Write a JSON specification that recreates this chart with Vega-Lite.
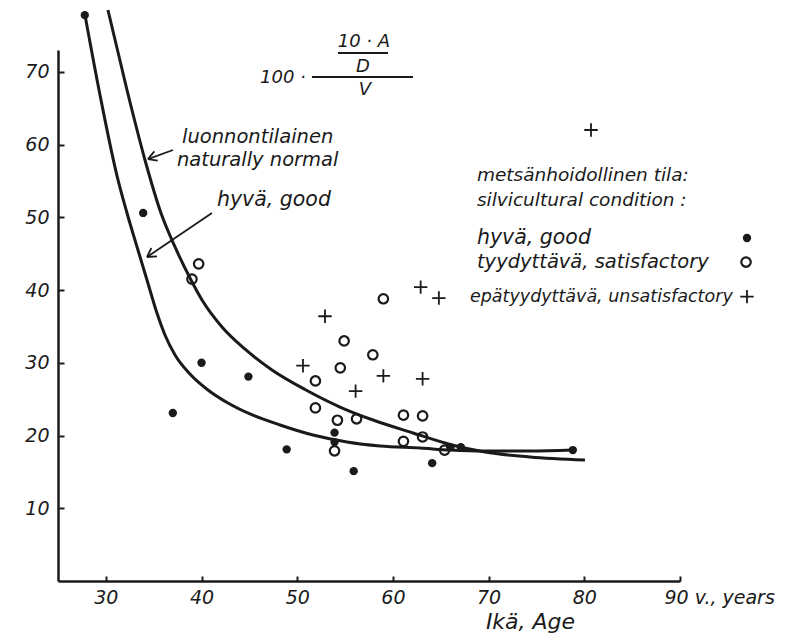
{
  "$schema": "https://vega.github.io/schema/vega-lite/v6.json",
  "autosize": {"type": "none"},
  "width": 622,
  "height": 531,
  "padding": {"left": 58, "top": 50, "right": 118, "bottom": 54},
  "background": "white",
  "config": {
    "view": {"stroke": null},
    "text": {"font": "DejaVu Sans", "fontStyle": "italic", "color": "#1a1a1a"}
  },
  "datasets": {
    "obs": [
      {"age": 27.8, "value": 77.8, "cond": "good"},
      {"age": 33.9, "value": 50.6, "cond": "good"},
      {"age": 40.0, "value": 30.0, "cond": "good"},
      {"age": 44.9, "value": 28.1, "cond": "good"},
      {"age": 37.0, "value": 23.1, "cond": "good"},
      {"age": 48.9, "value": 18.1, "cond": "good"},
      {"age": 53.9, "value": 20.4, "cond": "good"},
      {"age": 53.9, "value": 19.1, "cond": "good"},
      {"age": 55.9, "value": 15.1, "cond": "good"},
      {"age": 64.1, "value": 16.2, "cond": "good"},
      {"age": 66.0, "value": 18.4, "cond": "good"},
      {"age": 67.1, "value": 18.4, "cond": "good"},
      {"age": 78.8, "value": 18.0, "cond": "good"},
      {"age": 39.7, "value": 43.6, "cond": "satisfactory"},
      {"age": 39.0, "value": 41.5, "cond": "satisfactory"},
      {"age": 59.0, "value": 38.8, "cond": "satisfactory"},
      {"age": 54.9, "value": 33.0, "cond": "satisfactory"},
      {"age": 57.9, "value": 31.1, "cond": "satisfactory"},
      {"age": 54.5, "value": 29.3, "cond": "satisfactory"},
      {"age": 51.9, "value": 27.5, "cond": "satisfactory"},
      {"age": 51.9, "value": 23.8, "cond": "satisfactory"},
      {"age": 54.2, "value": 22.1, "cond": "satisfactory"},
      {"age": 56.2, "value": 22.3, "cond": "satisfactory"},
      {"age": 53.9, "value": 17.9, "cond": "satisfactory"},
      {"age": 61.1, "value": 22.8, "cond": "satisfactory"},
      {"age": 63.1, "value": 22.7, "cond": "satisfactory"},
      {"age": 61.1, "value": 19.2, "cond": "satisfactory"},
      {"age": 63.1, "value": 19.8, "cond": "satisfactory"},
      {"age": 65.4, "value": 18.0, "cond": "satisfactory"},
      {"age": 80.7, "value": 62.0, "cond": "unsatisfactory"},
      {"age": 62.9, "value": 40.4, "cond": "unsatisfactory"},
      {"age": 64.8, "value": 38.9, "cond": "unsatisfactory"},
      {"age": 52.9, "value": 36.4, "cond": "unsatisfactory"},
      {"age": 50.6, "value": 29.6, "cond": "unsatisfactory"},
      {"age": 59.0, "value": 28.2, "cond": "unsatisfactory"},
      {"age": 56.1, "value": 26.1, "cond": "unsatisfactory"},
      {"age": 63.1, "value": 27.8, "cond": "unsatisfactory"}
    ],
    "curves": [
      {"curve": "naturally normal", "age": 30.22, "value": 78.5},
      {"curve": "naturally normal", "age": 32.21, "value": 67.5},
      {"curve": "naturally normal", "age": 34.09, "value": 57.88},
      {"curve": "naturally normal", "age": 35.76, "value": 50.59},
      {"curve": "naturally normal", "age": 37.23, "value": 45.92},
      {"curve": "naturally normal", "age": 38.9, "value": 41.38},
      {"curve": "naturally normal", "age": 40.05, "value": 38.63},
      {"curve": "naturally normal", "age": 42.14, "value": 34.92},
      {"curve": "naturally normal", "age": 44.64, "value": 31.76},
      {"curve": "naturally normal", "age": 47.36, "value": 29.01},
      {"curve": "naturally normal", "age": 50.91, "value": 26.26},
      {"curve": "naturally normal", "age": 54.47, "value": 23.92},
      {"curve": "naturally normal", "age": 57.92, "value": 22.13},
      {"curve": "naturally normal", "age": 62.1, "value": 20.35},
      {"curve": "naturally normal", "age": 66.17, "value": 18.7},
      {"curve": "naturally normal", "age": 69.62, "value": 17.73},
      {"curve": "naturally normal", "age": 74.32, "value": 17.05},
      {"curve": "naturally normal", "age": 80.07, "value": 16.63},
      {"curve": "good", "age": 27.82, "value": 77.81},
      {"curve": "good", "age": 29.39, "value": 66.81},
      {"curve": "good", "age": 31.27, "value": 55.13},
      {"curve": "good", "age": 32.21, "value": 50.59},
      {"curve": "good", "age": 33.26, "value": 45.92},
      {"curve": "good", "age": 34.3, "value": 41.38},
      {"curve": "good", "age": 35.34, "value": 36.84},
      {"curve": "good", "age": 36.18, "value": 33.82},
      {"curve": "good", "age": 37.23, "value": 31.07},
      {"curve": "good", "age": 38.79, "value": 28.46},
      {"curve": "good", "age": 40.67, "value": 26.26},
      {"curve": "good", "age": 42.76, "value": 24.47},
      {"curve": "good", "age": 45.06, "value": 22.96},
      {"curve": "good", "age": 48.2, "value": 21.45},
      {"curve": "good", "age": 51.65, "value": 20.07},
      {"curve": "good", "age": 55.2, "value": 19.11},
      {"curve": "good", "age": 58.65, "value": 18.56},
      {"curve": "good", "age": 62.83, "value": 18.28},
      {"curve": "good", "age": 65.96, "value": 18.01},
      {"curve": "good", "age": 69.41, "value": 17.87},
      {"curve": "good", "age": 74.32, "value": 17.87},
      {"curve": "good", "age": 78.81, "value": 18.01}
    ],
    "segments": [
      {"part": "arrow1", "x": 34.4, "y": 58.01, "x2": 37.02, "y2": 59.25},
      {"part": "arrow1", "x": 34.4, "y": 58.01, "x2": 35.07, "y2": 59.06},
      {"part": "arrow1", "x": 34.4, "y": 58.01, "x2": 35.42, "y2": 57.8},
      {"part": "arrow2", "x": 34.3, "y": 44.54, "x2": 41.09, "y2": 50.59},
      {"part": "arrow2", "x": 34.3, "y": 44.54, "x2": 34.76, "y2": 45.78},
      {"part": "arrow2", "x": 34.3, "y": 44.54, "x2": 35.34, "y2": 44.64},
      {"part": "bar", "x": 54.26, "y": 72.59, "x2": 59.49, "y2": 72.59},
      {"part": "bar", "x": 51.54, "y": 69.29, "x2": 62.1, "y2": 69.29}
    ]
  },
  "layer": [
    {
      "data": {"name": "curves"},
      "mark": {"type": "line", "interpolate": "monotone", "color": "#1a1a1a", "strokeWidth": 3},
      "encoding": {
        "x": {"field": "age", "type": "quantitative", "scale": {"domain": [25, 90], "nice": false, "zero": false},
          "axis": {
            "values": [30, 40, 50, 60, 70, 80, 90],
            "domainColor": "#1a1a1a", "domainWidth": 2.5,
            "tickColor": "#1a1a1a", "tickWidth": 2, "tickSize": -5,
            "labelFont": "DejaVu Sans", "labelFontStyle": "italic", "labelFontSize": 19, "labelColor": "#1a1a1a",
            "labelPadding": 12, "labelFlush": false, "labelOverlap": false, "labelBound": false,
            "labelExpr": "datum.value == 90 ? '90 v., years' : datum.label",
            "labelAlign": {"condition": {"test": "datum.value == 90", "value": "left"}, "value": "center"},
            "labelOffset": {"condition": {"test": "datum.value == 90", "value": -16}, "value": 0},
            "grid": false,
            "title": "Ikä, Age", "titleFont": "DejaVu Sans", "titleFontStyle": "italic", "titleFontWeight": "normal",
            "titleFontSize": 22, "titleColor": "#1a1a1a", "titleX": 472, "titleY": 30
          }},
        "y": {"field": "value", "type": "quantitative", "scale": {"domain": [0, 73], "nice": false, "zero": false},
          "axis": {
            "values": [10, 20, 30, 40, 50, 60, 70],
            "domainColor": "#1a1a1a", "domainWidth": 2.5,
            "tickColor": "#1a1a1a", "tickWidth": 2, "tickSize": -6,
            "labelFont": "DejaVu Sans", "labelFontStyle": "italic", "labelFontSize": 19, "labelColor": "#1a1a1a",
            "labelPadding": 15, "labelFlush": false, "labelOverlap": false, "labelBound": false,
            "grid": false, "title": null
          }},
        "detail": {"field": "curve", "type": "nominal"}
      }
    },
    {
      "data": {"name": "obs"},
      "transform": [{"filter": "datum.cond == 'good'"}],
      "mark": {"type": "point", "shape": "circle", "filled": true, "color": "#1a1a1a", "size": 70, "opacity": 1},
      "encoding": {
        "x": {"field": "age", "type": "quantitative"},
        "y": {"field": "value", "type": "quantitative"}
      }
    },
    {
      "data": {"name": "obs"},
      "transform": [{"filter": "datum.cond == 'satisfactory'"}],
      "mark": {"type": "point", "shape": "circle", "filled": false, "color": "#1a1a1a", "size": 90, "strokeWidth": 2.2, "opacity": 1},
      "encoding": {
        "x": {"field": "age", "type": "quantitative"},
        "y": {"field": "value", "type": "quantitative"}
      }
    },
    {
      "data": {"name": "obs"},
      "transform": [{"filter": "datum.cond == 'unsatisfactory'"}],
      "mark": {"type": "point", "shape": "M-1,0L1,0M0,-1L0,1", "filled": false, "color": "#1a1a1a", "size": 180, "strokeWidth": 1.8, "opacity": 1},
      "encoding": {
        "x": {"field": "age", "type": "quantitative"},
        "y": {"field": "value", "type": "quantitative"}
      }
    },
    {
      "data": {"name": "segments"},
      "mark": {"type": "rule", "color": "#1a1a1a", "strokeWidth": 1.8},
      "encoding": {
        "x": {"field": "x", "type": "quantitative"},
        "y": {"field": "y", "type": "quantitative"},
        "x2": {"field": "x2"},
        "y2": {"field": "y2"}
      }
    },
    {
      "data": {"values": [
        {"label": "10 · A", "age": 56.97, "value": 74.1},
        {"label": "D", "age": 56.87, "value": 70.66},
        {"label": "V", "age": 57.08, "value": 67.5}
      ]},
      "mark": {"type": "text", "fontSize": 18, "align": "center", "baseline": "middle"},
      "encoding": {
        "x": {"field": "age", "type": "quantitative"},
        "y": {"field": "value", "type": "quantitative"},
        "text": {"field": "label"}
      }
    },
    {
      "data": {"values": [{"label": "100 ·", "age": 50.9, "value": 69.15}]},
      "mark": {"type": "text", "fontSize": 18, "align": "right", "baseline": "middle"},
      "encoding": {
        "x": {"field": "age", "type": "quantitative"},
        "y": {"field": "value", "type": "quantitative"},
        "text": {"field": "label"}
      }
    },
    {
      "data": {"values": [
        {"label": "luonnontilainen", "age": 37.96, "value": 61.04},
        {"label": "naturally normal", "age": 37.43, "value": 57.88}
      ]},
      "mark": {"type": "text", "fontSize": 19.5, "align": "left", "baseline": "middle"},
      "encoding": {
        "x": {"field": "age", "type": "quantitative"},
        "y": {"field": "value", "type": "quantitative"},
        "text": {"field": "label"}
      }
    },
    {
      "data": {"values": [
        {"label": "metsänhoidollinen tila:", "age": 68.78, "value": 55.82},
        {"label": "silvicultural condition :", "age": 68.78, "value": 52.38}
      ]},
      "mark": {"type": "text", "fontSize": 18.5, "align": "left", "baseline": "middle"},
      "encoding": {
        "x": {"field": "age", "type": "quantitative"},
        "y": {"field": "value", "type": "quantitative"},
        "text": {"field": "label"}
      }
    },
    {
      "data": {"values": [
        {"label": "hyvä, good", "age": 41.61, "value": 52.38},
        {"label": "hyvä, good", "age": 68.78, "value": 47.15}
      ]},
      "mark": {"type": "text", "fontSize": 20.5, "align": "left", "baseline": "middle"},
      "encoding": {
        "x": {"field": "age", "type": "quantitative"},
        "y": {"field": "value", "type": "quantitative"},
        "text": {"field": "label"}
      }
    },
    {
      "data": {"values": [{"label": "tyydyttävä, satisfactory", "age": 68.78, "value": 43.85}]},
      "mark": {"type": "text", "fontSize": 19.5, "align": "left", "baseline": "middle"},
      "encoding": {
        "x": {"field": "age", "type": "quantitative"},
        "y": {"field": "value", "type": "quantitative"},
        "text": {"field": "label"}
      }
    },
    {
      "data": {"values": [{"label": "epätyydyttävä, unsatisfactory", "age": 68.05, "value": 39.1}]},
      "mark": {"type": "text", "fontSize": 17.5, "align": "left", "baseline": "middle"},
      "encoding": {
        "x": {"field": "age", "type": "quantitative"},
        "y": {"field": "value", "type": "quantitative"},
        "text": {"field": "label"}
      }
    },
    {
      "data": {"values": [{"cond": "good", "age": 97.0, "value": 47.15}]},
      "mark": {"type": "point", "shape": "circle", "filled": true, "color": "#1a1a1a", "size": 70, "opacity": 1},
      "encoding": {
        "x": {"field": "age", "type": "quantitative"},
        "y": {"field": "value", "type": "quantitative"}
      }
    },
    {
      "data": {"values": [{"cond": "satisfactory", "age": 96.9, "value": 43.85}]},
      "mark": {"type": "point", "shape": "circle", "filled": false, "color": "#1a1a1a", "size": 90, "strokeWidth": 2.2, "opacity": 1},
      "encoding": {
        "x": {"field": "age", "type": "quantitative"},
        "y": {"field": "value", "type": "quantitative"}
      }
    },
    {
      "data": {"values": [{"cond": "unsatisfactory", "age": 97.0, "value": 39.1}]},
      "mark": {"type": "point", "shape": "M-1,0L1,0M0,-1L0,1", "filled": false, "color": "#1a1a1a", "size": 180, "strokeWidth": 1.8, "opacity": 1},
      "encoding": {
        "x": {"field": "age", "type": "quantitative"},
        "y": {"field": "value", "type": "quantitative"}
      }
    }
  ]
}
